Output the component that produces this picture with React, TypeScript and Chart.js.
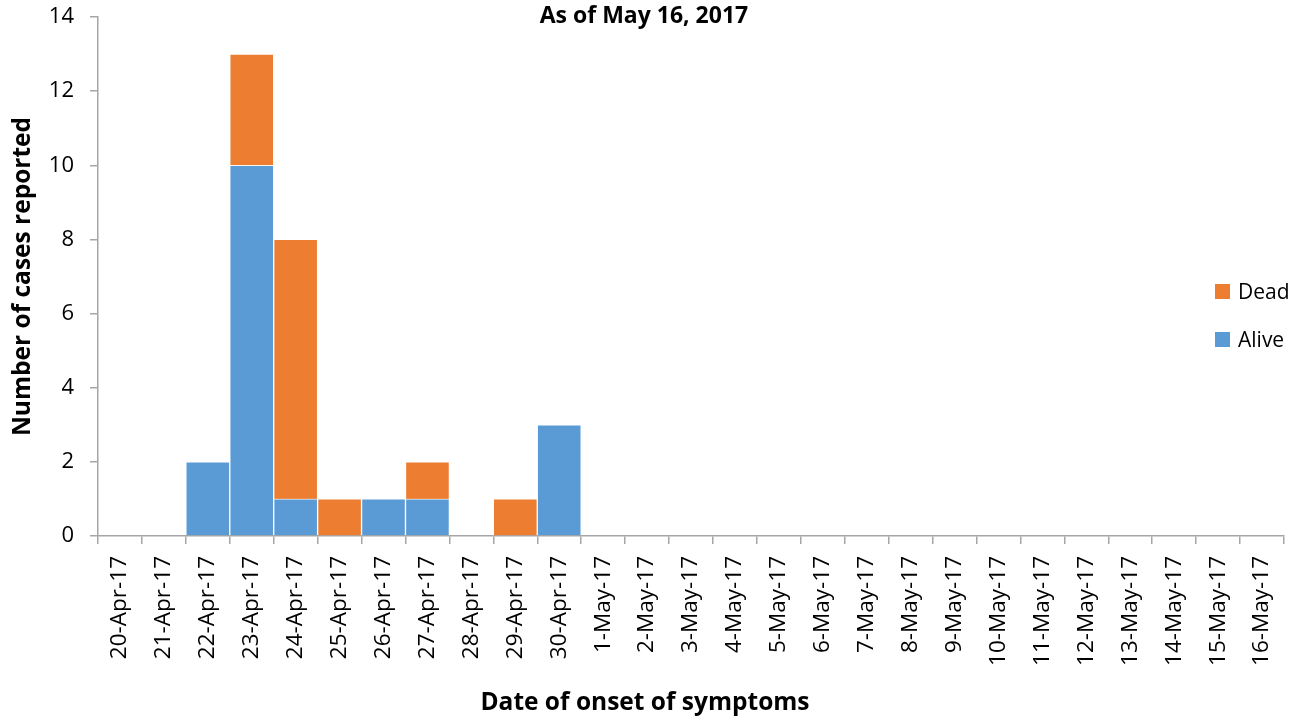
import React, { useEffect, useRef } from "react";
import { Chart, registerables } from "chart.js";

Chart.register(...registerables);

const dates = [
  "20-Apr-17", "21-Apr-17", "22-Apr-17", "23-Apr-17", "24-Apr-17", "25-Apr-17",
  "26-Apr-17", "27-Apr-17", "28-Apr-17", "29-Apr-17", "30-Apr-17",
  "1-May-17", "2-May-17", "3-May-17", "4-May-17", "5-May-17", "6-May-17",
  "7-May-17", "8-May-17", "9-May-17", "10-May-17", "11-May-17", "12-May-17",
  "13-May-17", "14-May-17", "15-May-17", "16-May-17",
];
const alive = [0, 0, 2, 10, 1, 0, 1, 1, 0, 0, 3, 0, 0, 0, 0, 0, 0, 0, 0, 0, 0, 0, 0, 0, 0, 0, 0];
const dead = [0, 0, 0, 3, 7, 1, 0, 1, 0, 1, 0, 0, 0, 0, 0, 0, 0, 0, 0, 0, 0, 0, 0, 0, 0, 0, 0];
const yTicks = [0, 2, 4, 6, 8, 10, 12, 14];
const chartTitle = "As of May 16, 2017";
const xTitle = "Date of onset of symptoms";
const yTitle = "Number of cases reported";

const BLUE = "#5B9BD5";
const ORANGE = "#ED7D31";
const AXIS = "#A6A6A6";
const FONT = "'Open Sans', sans-serif";

export default function App() {
  const ref = useRef<HTMLCanvasElement | null>(null);

  useEffect(() => {
    document.body.style.margin = "0";
    const canvas = ref.current;
    if (!canvas) return;
    const chart = new Chart(canvas, {
      type: "bar",
      data: {
        labels: dates,
        datasets: [
          {
            label: "Alive",
            data: alive.map((v) => (v ? v : null)),
            backgroundColor: BLUE,
            borderColor: "rgba(255,255,255,0.55)",
            borderWidth: 1,
            barPercentage: 1,
            categoryPercentage: 1,
          },
          {
            label: "Dead",
            data: dead.map((v) => (v ? v : null)),
            backgroundColor: ORANGE,
            borderColor: "rgba(255,255,255,0.55)",
            borderWidth: 1,
            barPercentage: 1,
            categoryPercentage: 1,
          },
        ],
      },
      options: {
        animation: false,
        responsive: false,
        maintainAspectRatio: false,
        layout: { padding: { top: 17, right: 26, left: 0, bottom: 0 } },
        plugins: {
          legend: { display: false },
          tooltip: { enabled: false },
          title: { display: false },
        },
        scales: {
          x: {
            stacked: true,
            grid: {
              offset: true,
              drawOnChartArea: false,
              drawTicks: true,
              tickLength: 8,
              color: AXIS,
              lineWidth: 1.5,
            },
            border: { color: AXIS, width: 1.5 },
            ticks: {
              autoSkip: false,
              maxRotation: 90,
              minRotation: 90,
              padding: 12,
              color: "#000",
              font: { family: FONT, size: 22.5 },
            },
            title: { display: false },
            afterFit: (s: any) => {
              s.height = 186;
            },
          },
          y: {
            stacked: true,
            min: 0,
            max: 14,
            afterBuildTicks: (s: any) => {
              s.ticks = yTicks.map((v) => ({ value: v }));
            },
            grid: {
              drawOnChartArea: false,
              drawTicks: true,
              tickLength: 8,
              color: AXIS,
              lineWidth: 1.5,
            },
            border: { color: AXIS, width: 1.5 },
            ticks: {
              padding: 16,
              color: "#000",
              font: { family: FONT, size: 22 },
            },
            title: {
              display: true,
              text: yTitle,
              color: "#000",
              font: { family: FONT, size: 24.5, weight: "bold" },
              padding: { top: 8, bottom: 8 },
            },
            afterFit: (s: any) => {
              s.width = 98;
              s.paddingTop = 0;
              s.paddingBottom = 0;
            },
          },
        },
      },
    });
    return () => chart.destroy();
  }, []);

  const item = (color: string, text: string, top: number) => (
    <div
      style={{
        position: "absolute",
        left: 1215,
        top,
        display: "flex",
        alignItems: "center",
        fontFamily: FONT,
        fontSize: 21,
        color: "#000",
        lineHeight: "24px",
      }}
    >
      <span style={{ display: "inline-block", width: 15, height: 15, background: color, marginRight: 8 }} />
      <span>{text}</span>
    </div>
  );

  return (
    <div style={{ position: "relative", width: 1310, height: 722 }}>
      <canvas ref={ref} width={1310} height={722} style={{ display: "block" }} />
      <div
        style={{
          position: "absolute",
          left: 444,
          width: 400,
          top: 0,
          textAlign: "center",
          fontFamily: FONT,
          fontWeight: "bold",
          fontSize: 23,
          lineHeight: "28px",
          color: "#000",
        }}
      >
        {chartTitle}
      </div>
      <div
        style={{
          position: "absolute",
          left: 345,
          width: 600,
          top: 687,
          textAlign: "center",
          fontFamily: FONT,
          fontWeight: "bold",
          fontSize: 24.5,
          lineHeight: "28px",
          color: "#000",
        }}
      >
        {xTitle}
      </div>
      {item(ORANGE, "Dead", 279)}
      {item(BLUE, "Alive", 327)}
    </div>
  );
}
